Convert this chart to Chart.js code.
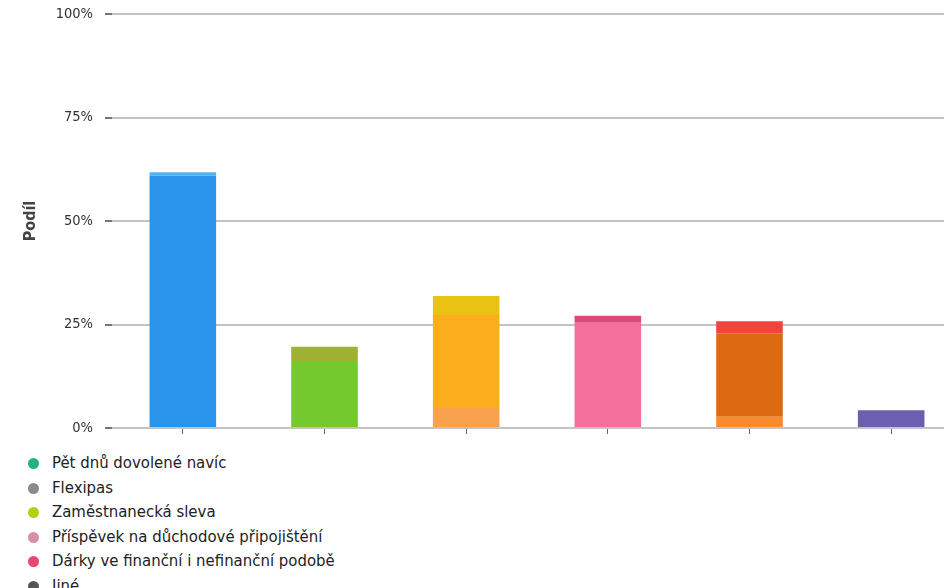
<!DOCTYPE html>
<html lang="cs">
<head>
<meta charset="utf-8">
<script src="https://cdn.jsdelivr.net/npm/chart.js@4/dist/chart.umd.min.js"></script>
<style>
  html, body { margin: 0; padding: 0; background: #fff; overflow: hidden; }
  body { width: 944px; height: 588px; position: relative; }
  #wrap { position: absolute; left: 0; top: 0; width: 962px; height: 445px; }
  #legend { position: absolute; left: 28px; top: 451px; font-family: 'DejaVu Sans Condensed', 'DejaVu Sans', sans-serif; font-size: 16.6px; color: #222; }
  #legend div { height: 24.5px; line-height: 24.5px; white-space: nowrap; }
  #legend span { display: inline-block; width: 11px; height: 11px; border-radius: 50%; margin-right: 13px; vertical-align: -1px; }
</style>
</head>
<body>
<div id="wrap"><canvas id="chart"></canvas></div>
<div id="legend"></div>
<script>
// kategorie (popisky os nejsou v obrázku zobrazeny)
const categories = ['Pět dnů dovolené navíc', 'Flexipas', 'Zaměstnanecká sleva',
  'Příspěvek na důchodové připojištění', 'Dárky ve finanční i nefinanční podobě', 'Jiné'];
const legendColors = ['#27b07e', '#8a8a8a', '#b4d10c', '#d98fa8', '#ea4574', '#555555'];

// podíly v % rozdělené na spodní, hlavní a horní pruh (jak jsou vidět na sloupcích)
const baseValues = [0, 0, 5.1, 0, 2.7, 0];
const mainValues = [60.9, 16.2, 22.2, 25.4, 20.2, 4.3];
const capValues = [0.9, 3.4, 4.6, 1.7, 2.9, 0];

const baseColors = ['#2a94ea', '#74c92f', '#f8a24e', '#f56f9c', '#f88a30', '#6a5fb0'];
const mainColors = ['#2a94ea', '#74c92f', '#fbad1c', '#f56f9c', '#dc6a12', '#6a5fb0'];
const capColors = ['#4fb4ee', '#9fb032', '#e9c212', '#d94a7a', '#f0443c', '#5a4fa0'];

const yTicks = [0, 25, 50, 75, 100];

const legend = document.getElementById('legend');
categories.forEach((c, i) => {
  const row = document.createElement('div');
  row.innerHTML = `<span style="background:${legendColors[i]}"></span>${c}`;
  legend.appendChild(row);
});

const ds = (label, data, colors) => ({
  label, data, backgroundColor: colors, borderWidth: 0,
  barPercentage: 0.47, categoryPercentage: 1
});

new Chart(document.getElementById('chart'), {
  type: 'bar',
  data: {
    labels: categories,
    datasets: [
      ds('spodní', baseValues, baseColors),
      ds('hlavní', mainValues, mainColors),
      ds('horní', capValues, capColors)
    ]
  },
  options: {
    responsive: true,
    maintainAspectRatio: false,
    animation: false,
    layout: { padding: { top: 14, left: 0, right: 0, bottom: 0 } },
    plugins: { legend: { display: false }, tooltip: { enabled: false } },
    scales: {
      x: {
        stacked: true,
        grid: { offset: false, drawOnChartArea: false, drawTicks: true, tickLength: 6, color: '#666' },
        border: { display: false },
        ticks: { display: false },
        afterFit: s => { s.height = 17; }
      },
      y: {
        stacked: true,
        min: 0, max: 100,
        afterBuildTicks: s => { s.ticks = yTicks.map(v => ({ value: v })); },
        ticks: {
          padding: 12,
          color: '#333',
          font: { family: 'DejaVu Sans Condensed', size: 14.5 },
          callback: v => v + '%'
        },
        grid: { color: '#c4c4c4', lineWidth: 2, tickLength: 7, tickColor: '#777' },
        border: { display: false },
        title: {
          display: true, text: 'Podíl', color: '#444',
          font: { family: 'DejaVu Sans Condensed', size: 16, weight: 'bold' },
          padding: { top: 21, bottom: 0 }
        },
        afterFit: s => { s.width = 112; s.paddingTop = 0; s.paddingBottom = 0; }
      }
    }
  }
});
</script>
</body>
</html>
